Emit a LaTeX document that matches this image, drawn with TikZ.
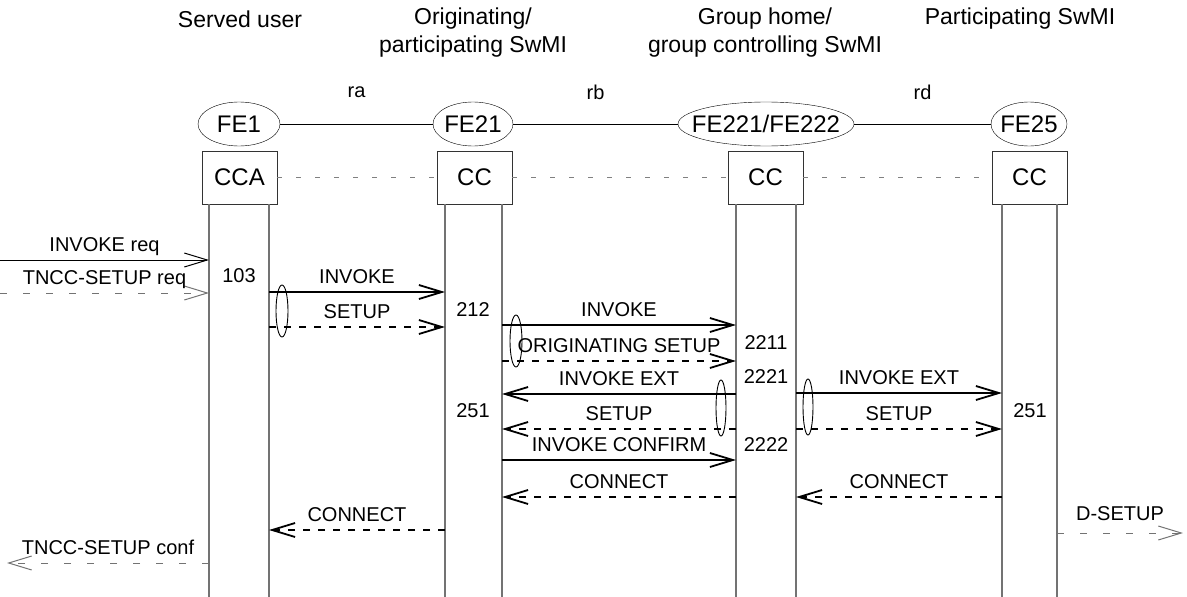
\documentclass[tikz,border=0pt]{standalone}
\usepackage{fontspec}
\setmainfont{Liberation Sans}
\usetikzlibrary{shapes.geometric,arrows.meta}

\begin{document}
\begin{tikzpicture}[x=1pt,y=-1pt,font=\fontsize{20}{24}\selectfont,
  hdr/.style={align=center,font=\fontsize{23}{28}\selectfont},
  fe/.style={draw,ellipse,inner sep=0pt,inner xsep=-4pt,minimum height=44pt,font=\fontsize{24}{28}\selectfont},
  fu/.style={draw=black!80,minimum width=75pt,minimum height=53pt,inner sep=0pt,font=\fontsize{24}{28}\selectfont},
  life/.style={draw=black!55,line width=1.2pt},
  sep/.style={draw=black!50,line width=1.2pt,dash pattern=on 5pt off 14pt},
  lbl/.style={midway,anchor=base,yshift=9pt},
  sig/.style={line width=1.8pt,-{Straight Barb[length=23pt,width=14pt]}},
  sigd/.style={sig,dash pattern=on 7pt off 8pt},
  ext/.style={line width=1pt,-{Straight Barb[length=23pt,width=14pt]}},
  extd/.style={ext,draw=black!55,dash pattern=on 7pt off 16pt},
  grp/.style={line width=0.9pt}]
  \useasboundingbox (0,0) rectangle (1187,597);

  % column headings
  \node[hdr] at (240,19) {Served user};
  \node[hdr] at (473,33) {Originating/\\participating SwMI};
  \node[hdr] at (765,33) {Group home/\\group controlling SwMI};
  \node[hdr] at (1020,19) {Participating SwMI};

  % functional entities
  \node[fe,minimum width=82pt] (fe1) at (239,124) {FE1};
  \node[fe,minimum width=80pt] (fe21) at (473,124) {FE21};
  \node[fe,minimum width=176pt,inner xsep=-20pt] (fe221) at (766,124) {FE221/FE222};
  \node[fe,minimum width=76pt] (fe25) at (1029,124) {FE25};
  \draw (fe1.east) -- node[midway,yshift=32pt] {ra} (fe21.west);
  \draw (fe21.east) -- node[midway,yshift=32pt] {rb} (fe221.west);
  \draw (fe221.east) -- node[midway,yshift=32pt] {rd} (fe25.west);

  % call control boxes
  \node[fu] (cca) at (239.5,177.5) {CCA};
  \node[fu] (cc21) at (474.5,177.5) {CC};
  \node[fu] (cc221) at (765.5,177.5) {CC};
  \node[fu] (cc25) at (1029.5,177.5) {CC};
  \draw[sep] (cca.east) -- (cc21.west);
  \draw[sep] (cc21.east) -- (cc221.west);
  \draw[sep] (cc221.east) -- (cc25.west);

  % lifelines
  \coordinate (u1) at (209,204); \coordinate (u2) at (269,204);
  \coordinate (o1) at (445,204); \coordinate (o2) at (502,204);
  \coordinate (g1) at (736,204); \coordinate (g2) at (796,204);
  \coordinate (p1) at (1002,204); \coordinate (p2) at (1057,204);
  \foreach \c in {u1,u2,o1,o2,g1,g2,p1,p2}
    \draw[life] (\c) -- (\c |- 0,597);

  % flows
  \draw[ext] (0,260) -- node[lbl] {INVOKE req} (u1 |- 0,260);
  \draw[extd] (0,293) -- node[lbl] {TNCC-SETUP req} (u1 |- 0,293);
  \draw[sig] (u2 |- 0,292) -- node[lbl] {INVOKE} (o1 |- 0,292);
  \draw[sigd] (u2 |- 0,327) -- node[lbl] {SETUP} (o1 |- 0,327);
  \draw[sig] (o2 |- 0,325) -- node[lbl] {INVOKE} (g1 |- 0,325);
  \draw[sigd] (o2 |- 0,361) -- node[lbl] {ORIGINATING SETUP} (g1 |- 0,361);
  \draw[sig] (g1 |- 0,394) -- node[lbl] {INVOKE EXT} (o2 |- 0,394);
  \draw[sigd] (g1 |- 0,429) -- node[lbl] {SETUP} (o2 |- 0,429);
  \draw[sig] (o2 |- 0,460) -- node[lbl] {INVOKE CONFIRM} (g1 |- 0,460);
  \draw[sig] (g2 |- 0,393) -- node[lbl] {INVOKE EXT} (p1 |- 0,393);
  \draw[sigd] (g2 |- 0,429) -- node[lbl] {SETUP} (p1 |- 0,429);
  \draw[sigd] (g1 |- 0,497) -- node[lbl] {CONNECT} (o2 |- 0,497);
  \draw[sigd] (p1 |- 0,497) -- node[lbl] {CONNECT} (g2 |- 0,497);
  \draw[sigd] (o1 |- 0,530) -- node[lbl] {CONNECT} (u2 |- 0,530);
  \draw[extd] (p2 |- 0,533) -- node[lbl,yshift=4pt] {D-SETUP} (1183,533);
  \draw[extd] (u1 |- 0,563) -- node[lbl] {TNCC-SETUP conf} (7,563);

  % grouping marks
  \draw[grp] (282,311) ellipse [x radius=6pt,y radius=26pt];
  \draw[grp] (516,341) ellipse [x radius=6pt,y radius=26pt];
  \draw[grp] (721,408) ellipse [x radius=5pt,y radius=28pt];
  \draw[grp] (808,407) ellipse [x radius=5pt,y radius=28pt];

  % state numbers
  \node at (239,276) {103};
  \node at (473,310) {212};
  \node at (766,343) {2211};
  \node at (766,377) {2221};
  \node at (766,445) {2222};
  \node at (473,411) {251};
  \node at (1030,411) {251};
\end{tikzpicture}
\end{document}
